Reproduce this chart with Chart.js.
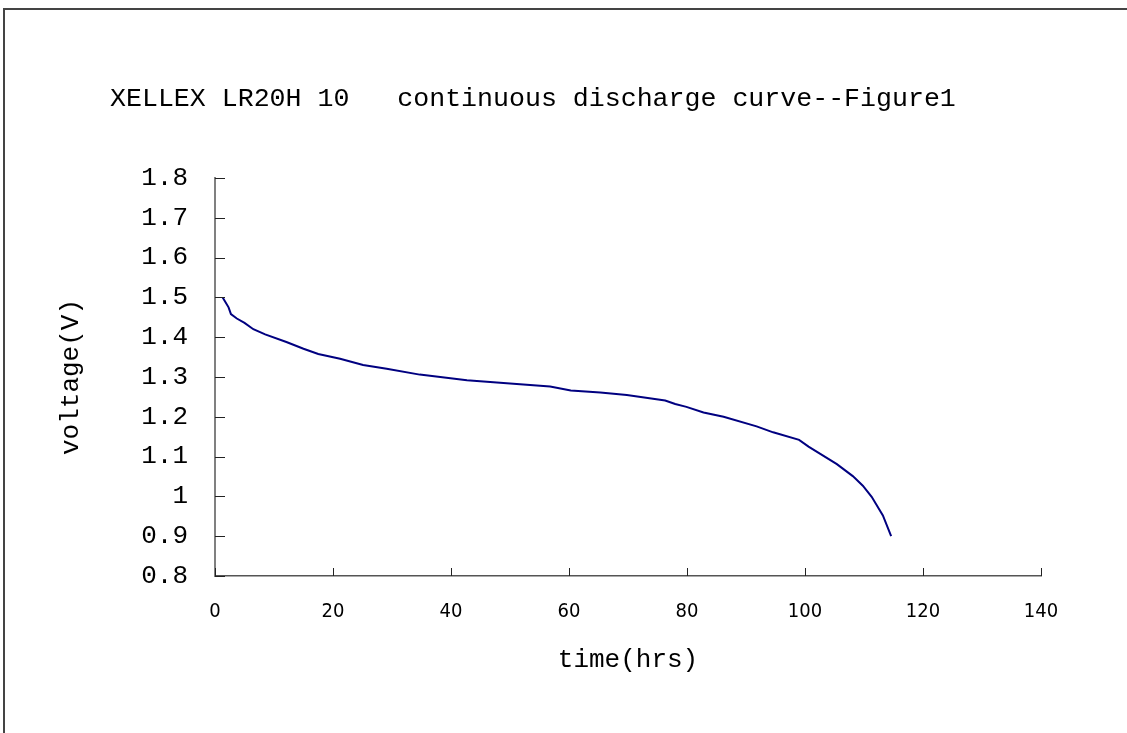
<!DOCTYPE html>
<html>
<head>
<meta charset="utf-8">
<script src="https://cdn.jsdelivr.net/npm/chart.js@4"></script>
<style>
  body { margin: 0; background: #fff; }
  #wrap { position: relative; width: 1127px; height: 733px; }
  #frame { position: absolute; left: 3px; top: 8px; right: -10px; bottom: -10px; border-left: 2px solid #444; border-top: 2px solid #444; }
  canvas { position: absolute; left: 0; top: 0; }
</style>
</head>
<body>
<div id="wrap">
  <div id="frame"></div>
  <canvas id="dischargeChart" width="1127" height="733"></canvas>
</div>
<script>
const titleText = "XELLEX LR20H 10   continuous discharge curve--Figure1";
const xTitle = "time(hrs)";
const yTitle = "voltage(V)";

const hours = [1.3, 2.3, 2.7, 3.7, 5.0, 6.5, 8.5, 12.1, 15.0, 17.5, 21.2, 25.1, 29.1, 34.7, 42.7, 51.7, 56.8, 60.3, 65.3, 69.8, 76.3, 78.0, 79.9, 82.8, 86.2, 91.8, 94.6, 99.0, 100.6, 105.4, 108.1, 109.8, 111.3, 113.2, 114.6];
const volts = [1.50, 1.475, 1.458, 1.447, 1.436, 1.42, 1.407, 1.388, 1.371, 1.358, 1.346, 1.330, 1.321, 1.306, 1.292, 1.282, 1.276, 1.266, 1.261, 1.255, 1.241, 1.232, 1.225, 1.211, 1.200, 1.176, 1.161, 1.142, 1.125, 1.081, 1.051, 1.027, 0.999, 0.952, 0.90];

const points = hours.map((h, i) => ({ x: h, y: volts[i] }));
const mono = "'Liberation Mono', 'DejaVu Sans Mono', monospace";

const ctx = document.getElementById("dischargeChart").getContext("2d");

new Chart(ctx, {
  type: "line",
  data: {
    datasets: [{
      label: "LR20H",
      data: points,
      borderColor: "#000080",
      borderWidth: 2,
      fill: false,
      pointRadius: 0,
      tension: 0,
    }],
  },
  options: {
    responsive: false,
    animation: false,
    layout: { padding: { top: 178, right: 86, bottom: 57, left: 0 } },
    scales: {
      x: {
        type: "linear",
        min: 0,
        max: 140,
        ticks: {
          stepSize: 20,
          padding: 24,
          color: "#000",
          maxRotation: 0,
          font: { family: "'Liberation Sans Narrow', 'DejaVu Sans Condensed', sans-serif", size: 20 },
        },
        grid: { display: true, drawOnChartArea: false, drawTicks: false },
        border: { color: "#555", width: 1.5 },
        title: { display: true, text: xTitle, color: "#000", padding: 0, font: { family: mono, size: 26 } },
        afterFit: function (scale) { scale.height = 100; },
      },
      y: {
        min: 0.8,
        max: 1.8,
        ticks: {
          stepSize: 0.1,
          padding: 27,
          color: "#000",
          font: { family: mono, size: 26 },
          callback: function (value) {
            return String(Number(value.toFixed(1)));
          },
        },
        grid: { display: true, drawOnChartArea: false, drawTicks: false },
        border: { color: "#808080", width: 2 },
        title: { display: true, text: yTitle, color: "#000", padding: { top: 56 }, font: { family: mono, size: 26 } },
        afterFit: function (scale) { scale.width = 215; },
      },
    },
    plugins: {
      legend: { display: false },
      tooltip: { enabled: false },
    },
  },
  plugins: [
    {
      id: "insideTicks",
      afterDraw: function (chart) {
        const c = chart.ctx;
        const xs = chart.scales.x;
        const ys = chart.scales.y;
        c.save();
        c.strokeStyle = "#222";
        c.lineWidth = 1;
        c.beginPath();
        ys.ticks.forEach(t => {
          const y = Math.round(ys.getPixelForValue(t.value)) + 0.5;
          c.moveTo(ys.right, y);
          c.lineTo(ys.right + 10, y);
        });
        xs.ticks.forEach(t => {
          const x = Math.round(xs.getPixelForValue(t.value)) + 0.5;
          c.moveTo(x, xs.top);
          c.lineTo(x, xs.top - 8);
        });
        c.stroke();
        c.restore();
      },
    },
    {
      id: "plainTitle",
      afterDraw: function (chart) {
        const c = chart.ctx;
        c.save();
        c.fillStyle = "#000";
        c.font = "26.6px " + mono;
        c.textBaseline = "middle";
        c.textAlign = "left";
        c.fillText(titleText, 110, 99);
        c.restore();
      },
    },
  ],
});
</script>
</body>
</html>
